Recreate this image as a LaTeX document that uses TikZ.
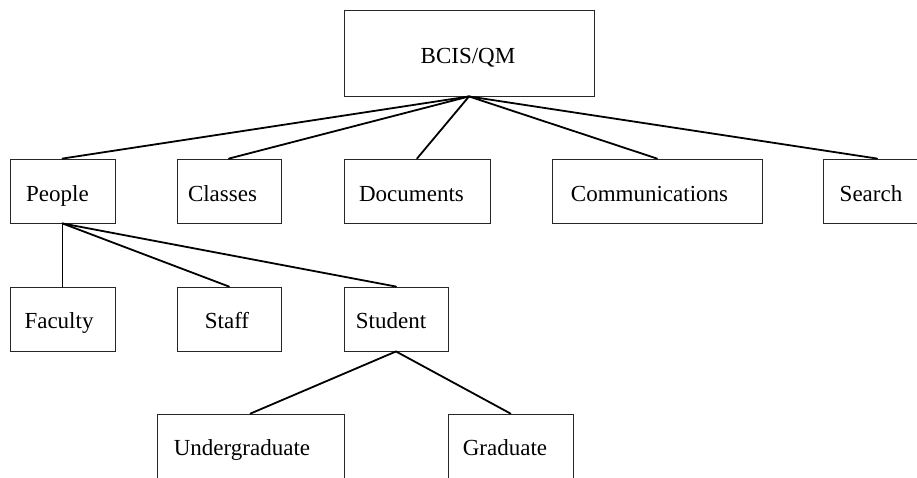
\documentclass[tikz,border=0pt]{standalone}
\usepackage{fontspec}
\setmainfont{Liberation Serif}
\begin{document}
\begin{tikzpicture}[x=1pt,y=-1pt,
  box/.style={draw=black!85,line width=0.9pt,rectangle,inner sep=0pt},
  lbl/.style={anchor=base,inner sep=0pt,font=\fontsize{23}{27}\selectfont},
  link/.style={line width=1.8pt,line cap=round}]
\useasboundingbox (0,0) rectangle (917,477);
\clip (0,0) rectangle (917,477);
% boxes
\node[box,minimum width=250pt,minimum height=86pt] (root) at (469,53) {};
\node[box,minimum width=105pt,minimum height=64pt] (people) at (62.5,191) {};
\node[box,minimum width=104pt,minimum height=64pt] (classes) at (229,191) {};
\node[box,minimum width=146pt,minimum height=64pt] (documents) at (417,191) {};
\node[box,minimum width=210pt,minimum height=64pt] (comm) at (657,191) {};
\node[box,minimum width=108pt,minimum height=64pt] (search) at (877,191) {};
\node[box,minimum width=105pt,minimum height=64pt] (faculty) at (62.5,319) {};
\node[box,minimum width=104pt,minimum height=64pt] (staff) at (229,319) {};
\node[box,minimum width=104pt,minimum height=64pt] (student) at (396,319) {};
\node[box,minimum width=187pt,minimum height=64pt] (under) at (250.5,446) {};
\node[box,minimum width=125pt,minimum height=64pt] (grad) at (510.5,446) {};
% labels
\node[lbl] (roottxt) at (468,63) {BCIS/QM};
\node[lbl] (peopletxt) at (57.5,201) {People};
\node[lbl] (classestxt) at (222.5,201) {Classes};
\node[lbl] (documentstxt) at (411.5,201) {Documents};
\node[lbl] (commtxt) at (649.5,201) {Communications};
\node[lbl] (searchtxt) at (871,201) {Search};
\node[lbl] (facultytxt) at (59,328) {Faculty};
\node[lbl] (stafftxt) at (227,328) {Staff};
\node[lbl] (studenttxt) at (391,328) {Student};
\node[lbl] (undertxt) at (242,455) {Undergraduate};
\node[lbl] (gradtxt) at (505,455) {Graduate};
% connectors
\foreach \c in {people,classes,documents,comm,search}
  \draw[link] (root.south) -- (\c.north);
\foreach \c in {faculty,staff,student}
  \draw[link] (people.south) -- (\c.north);
\foreach \c in {under,grad}
  \draw[link] (student.south) -- (\c.north);
\end{tikzpicture}
\end{document}
